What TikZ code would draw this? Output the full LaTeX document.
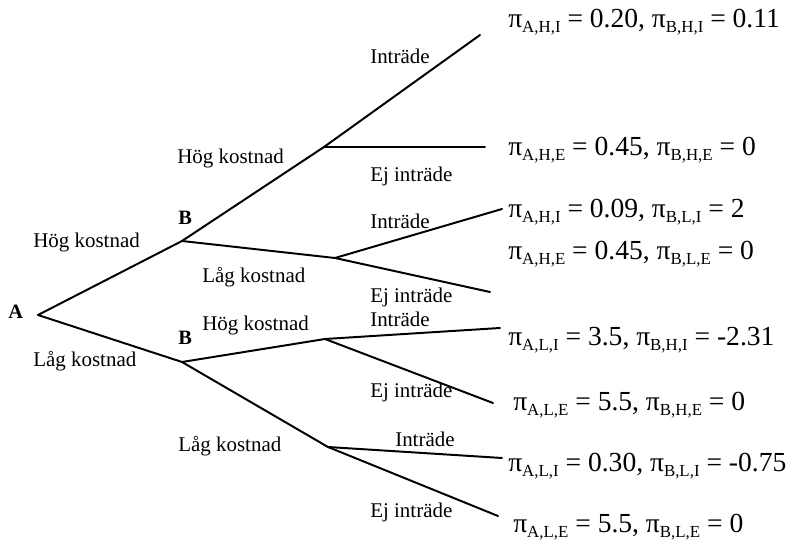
\documentclass[tikz,border=0pt]{standalone}
\usepackage{fontspec}
\setmainfont{Liberation Serif}
\newcommand{\sbs}[1]{\raisebox{-0.18em}{\fontsize{12}{12}\selectfont #1}}
\newcommand{\utfall}[4]{π\sbs{#1} = #2, π\sbs{#3} = #4}
\begin{document}
\begin{tikzpicture}[x=0.025cm,y=-0.025cm,line cap=round,line join=round,
  gren/.style={line width=1.4pt},
  etikett/.style={anchor=base west,inner sep=0pt,font=\fontsize{14.9}{18}\selectfont},
  spelare/.style={anchor=base west,inner sep=0pt,font=\fontsize{14.5}{16}\selectfont\bfseries},
  vinst/.style={anchor=base west,inner sep=0pt,font=\fontsize{19.6}{22}\selectfont}]
  \useasboundingbox (0,0) rectangle (791,543);
  % beslutspunkter
  \coordinate (A) at (38,315);
  \coordinate (B1) at (182,241);
  \coordinate (B2) at (182,362);
  \coordinate (HH) at (324,147);
  \coordinate (HL) at (335,258);
  \coordinate (LH) at (325,339);
  \coordinate (LL) at (328,447);
  % slutpunkter
  \coordinate (e1) at (480,35);
  \coordinate (e2) at (485,147);
  \coordinate (e3) at (502,209);
  \coordinate (e4) at (490,292);
  \coordinate (e5) at (500,328);
  \coordinate (e6) at (493,403);
  \coordinate (e7) at (502,458);
  \coordinate (e8) at (498,516);
  % grenar
  \draw[gren] (A) -- (B1);
  \draw[gren] (A) -- (B2);
  \draw[gren] (B1) -- (HH);
  \draw[gren] (B1) -- (HL);
  \draw[gren] (B2) -- (LH);
  \draw[gren] (B2) -- (LL);
  \draw[gren] (HH) -- (e1);
  \draw[gren] (HH) -- (e2);
  \draw[gren] (HL) -- (e3);
  \draw[gren] (HL) -- (e4);
  \draw[gren] (LH) -- (e5);
  \draw[gren] (LH) -- (e6);
  \draw[gren] (LL) -- (e7);
  \draw[gren] (LL) -- (e8);
  % spelare
  \node[spelare] (nA) at (8,319) {A};
  \node[spelare] (nB1) at (178,225) {B};
  \node[spelare] (nB2) at (178,345) {B};
  % kostnader
  \node[etikett] (kA1) at (33,248) {Hög kostnad};
  \node[etikett] (kA2) at (33,367) {Låg kostnad};
  \node[etikett] (kB1) at (177,164) {Hög kostnad};
  \node[etikett] (kB2) at (202,283) {Låg kostnad};
  \node[etikett] (kB3) at (202,331) {Hög kostnad};
  \node[etikett] (kB4) at (178,452) {Låg kostnad};
  % inträdesbeslut
  \node[etikett] (i1) at (370,64) {Inträde};
  \node[etikett] (j1) at (370,182) {Ej inträde};
  \node[etikett] (i2) at (370,229) {Inträde};
  \node[etikett] (j2) at (370,303) {Ej inträde};
  \node[etikett] (i3) at (370,327) {Inträde};
  \node[etikett] (j3) at (370,398) {Ej inträde};
  \node[etikett] (i4) at (395,447) {Inträde};
  \node[etikett] (j4) at (370,518) {Ej inträde};
  % vinster
  \node[vinst] (v1) at (508,28) {\utfall{A,H,I}{0.20}{B,H,I}{0.11}};
  \node[vinst] (v2) at (508,156) {\utfall{A,H,E}{0.45}{B,H,E}{0}};
  \node[vinst] (v3) at (508,218) {\utfall{A,H,I}{0.09}{B,L,I}{2}};
  \node[vinst] (v4) at (508,260) {\utfall{A,H,E}{0.45}{B,L,E}{0}};
  \node[vinst] (v5) at (508,346) {\utfall{A,L,I}{3.5}{B,H,I}{-2.31}};
  \node[vinst] (v6) at (513,411) {\utfall{A,L,E}{5.5}{B,H,E}{0}};
  \node[vinst] (v7) at (508,472) {\utfall{A,L,I}{0.30}{B,L,I}{-0.75}};
  \node[vinst] (v8) at (513,533) {\utfall{A,L,E}{5.5}{B,L,E}{0}};
\end{tikzpicture}
\end{document}
